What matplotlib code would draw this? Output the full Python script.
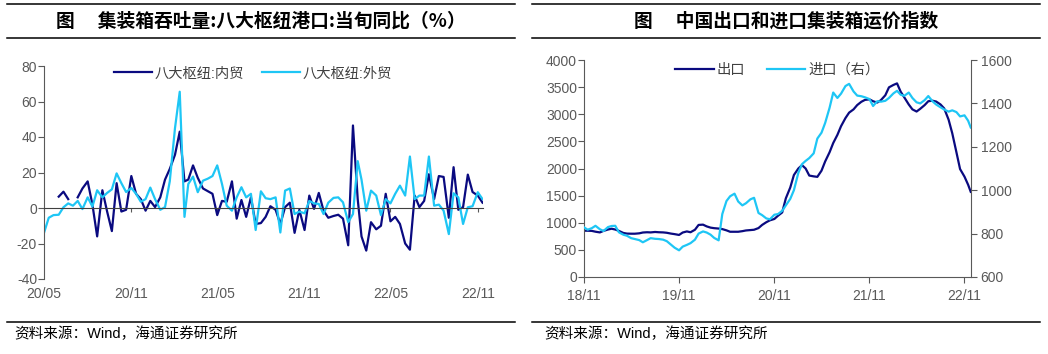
import matplotlib
matplotlib.use("Agg")
import matplotlib.pyplot as plt
import matplotlib.dates as mdates
from matplotlib.lines import Line2D
import numpy as np
import pandas as pd

plt.rcParams['font.family'] = ['Liberation Sans', 'Noto Sans CJK SC', 'DejaVu Sans']
plt.rcParams['axes.unicode_minus'] = False

# ---- left chart: 八大枢纽港口 当旬同比 (%), one value per dekad from 2020-05 上旬
nan = np.nan
nei_mao = [nan, nan, nan, 6.4, 9.2, 5, nan, 6, 11, 15,
           2, -16, 10, -2, -13, 14, -2, -1, 18, 8,
           5, -1.5, 4, 0.5, 6, 16, 22, 30, 43, 15,
           16, 24, 17, 11, 9.5, 8, -4, 4, 3.5, 15,
           -6, 4.5, -5, 6, -9, -8.5, -5, 1, -1, -9,
           0.5, 3, -14, -1, -12.4, 7, -0.5, 8.5, -1.5, -5.5,
           -4.5, -3.8, -6, -21, 46.5, 5, -16, -24, -8, -12,
           -10, 8, -7.5, -5, -9, -20, -23.5, 7, 0.5, 4,
           19, 5, 18, 17.5, -5.5, 23, -1, 0.5, 18.8, 9,
           7, 3]
wai_mao = [-14, -5.5, -4, -3.8, 0.4, 2.6, 1.3, 4, -0.6, 6,
           0.8, 10, 6, 8.5, 10.5, 19.5, 14, 9, 11.3, 8,
           3.5, 5, 11.5, 5, -1, 0.5, 15, 45, 65.5, -5,
           13.5, 17.7, 8.9, 15.4, 16.5, 18, 24, 13.6, 1.3, -1.5,
           6, 11.7, 6, 8, -12.4, 9.4, 5.5, 5, 6, -13.8,
           9.8, 11, -3.4, -2, -3, 4, 2.6, 2.3, -3.4, 3,
           5.7, 6, 3.2, -8, -3.4, 26.4, 16, -1.5, 9.8, 7,
           -4, 5, 2.6, 8, 12.6, 7, 29, 5, 7, 7,
           29, 1.3, 1.9, -1.5, -14.7, 8.3, 6, -9, 0.4, 1,
           8.9, 5]
dekads = [pd.Timestamp(2020, 5, 1) + pd.DateOffset(months=k // 3) + pd.Timedelta(days=10 * (k % 3))
          for k in range(len(nei_mao))]

# ---- right chart: 出口 (CCFI, left axis) / 进口 (right axis), semi-monthly
export_idx = [853, 853, 850, 835, 822, 850, 875, 890, 875, 850,
              812, 800, 798, 798, 805, 820, 825, 822, 830, 825,
              822, 815, 800, 790, 775, 820, 840, 825, 871, 960,
              965, 933, 910, 900, 893, 883, 860, 834, 834, 834,
              845, 858, 865, 871, 902, 960, 1010, 1045, 1070, 1130,
              1190, 1450, 1650, 1880, 2000, 2062, 2000, 1870, 1855, 1846,
              1960, 2130, 2300, 2470, 2620, 2780, 2930, 3030, 3090, 3169,
              3230, 3265, 3274, 3240, 3215, 3260, 3350, 3496, 3540, 3569,
              3415, 3310, 3180, 3090, 3050, 3100, 3169, 3240, 3250, 3235,
              3180, 3108, 2900, 2650, 2300, 1990, 1850, 1700, 1570]
import_idx = [829, 818, 825, 836, 820, 812, 830, 835, 836, 806,
              795, 790, 779, 775, 770, 760, 770, 779, 776, 775,
              772, 765, 749, 735, 723, 740, 748, 756, 772, 800,
              810, 805, 795, 780, 769, 890, 950, 972, 984, 948,
              930, 940, 958, 965, 895, 885, 870, 866, 887, 890,
              905, 930, 960, 1000, 1080, 1120, 1135, 1148, 1170, 1238,
              1265, 1310, 1380, 1450, 1425, 1445, 1480, 1490, 1455, 1436,
              1433, 1428, 1420, 1388, 1410, 1408, 1412, 1425, 1446, 1458,
              1440, 1435, 1450, 1425, 1405, 1400, 1415, 1434, 1410, 1395,
              1382, 1372, 1362, 1368, 1360, 1340, 1345, 1320, 1289]
weeks = list(pd.date_range('2018-11-01', '2022-11-15', freq='SMS')) + [pd.Timestamp('2022-11-25')]

NAVY = '#0A0A80'
CYAN = '#1EC6F5'
GRAY = '#595959'
W, H = 1048, 354

fig = plt.figure(figsize=(W / 100, H / 100), dpi=100)

# frame lines and titles
for x0, x1 in [(7, 515), (532, 1040)]:
    for y in (4, 38, 322):
        fig.add_artist(Line2D([x0 / W, x1 / W], [1 - y / H, 1 - y / H], color='black', lw=1.1))
fig.text(261 / W, 1 - 21 / H, '图\u3000 集装箱吞吐量:八大枢纽港口:当旬同比（%）', ha='center', va='center',
         fontsize=13.5, fontweight='bold', family=['Noto Sans CJK SC'])
fig.text(786 / W, 1 - 21 / H, '图\u3000 中国出口和进口集装箱运价指数', ha='center', va='center',
         fontsize=13.5, fontweight='bold', family=['Noto Sans CJK SC'])
fig.text(14 / W, 1 - 334 / H, '资料来源：Wind，海通证券研究所', ha='left', va='center', fontsize=10.5)
fig.text(544 / W, 1 - 334 / H, '资料来源：Wind，海通证券研究所', ha='left', va='center', fontsize=10.5)

# ---- left chart
ax1 = fig.add_axes([44 / W, 75 / H, 439 / W, 213 / H])
ax1.plot(dekads, nei_mao, color=NAVY, lw=1.6, label='八大枢纽:内贸')
ax1.plot(dekads, wai_mao, color=CYAN, lw=1.6, label='八大枢纽:外贸')
ax1.set_ylim(-40, 80)
ax1.set_yticks(range(-40, 81, 20))
ax1.set_xlim(pd.Timestamp('2020-05-01'), pd.Timestamp('2022-11-12'))
ax1.set_xticks(pd.date_range('2020-05-01', '2022-11-01', freq='6MS'))
ax1.xaxis.set_major_formatter(mdates.DateFormatter('%y/%m'))
ax1.spines['top'].set_visible(False)
ax1.spines['right'].set_visible(False)
ax1.spines['bottom'].set_position(('data', 0))
ax1.spines['bottom'].set_color('#404040')
ax1.spines['left'].set_color(GRAY)
ax1.tick_params(axis='x', direction='out', length=3, color=GRAY, pad=54, labelsize=10, labelcolor=GRAY)
ax1.tick_params(axis='y', direction='out', length=4, color=GRAY, pad=1, labelsize=10, labelcolor=GRAY)
ax1.legend(loc='center', bbox_to_anchor=(0.476, 0.965), ncol=2, frameon=False, handlelength=2.7,
           handletextpad=0.2, columnspacing=1.2, fontsize=10.3, labelcolor='#404040')

# ---- right chart
ax3 = fig.add_axes([584 / W, 77 / H, 387 / W, 217 / H])
l1, = ax3.plot(weeks, export_idx, color=NAVY, lw=1.6, label='出口')
ax4 = ax3.twinx()
l2, = ax4.plot(weeks, import_idx, color=CYAN, lw=1.6, label='进口（右）')
ax3.set_ylim(0, 4000)
ax3.set_yticks(range(0, 4001, 500))
ax4.set_ylim(600, 1600)
ax4.set_yticks(range(600, 1601, 200))
ax3.set_xlim(pd.Timestamp('2018-11-01'), pd.Timestamp('2022-11-26'))
ax3.set_xticks(pd.date_range('2018-11-01', '2022-11-01', freq='12MS'))
ax3.xaxis.set_major_formatter(mdates.DateFormatter('%y/%m'))
for s in ['top', 'right']:
    ax3.spines[s].set_visible(False)
for s in ['top', 'left', 'bottom']:
    ax4.spines[s].set_visible(False)
ax3.spines['left'].set_color(GRAY)
ax3.spines['bottom'].set_color(GRAY)
ax4.spines['right'].set_color(GRAY)
ax3.tick_params(axis='x', direction='out', length=4, color=GRAY, pad=5, labelsize=10, labelcolor=GRAY)
ax3.tick_params(axis='y', direction='out', length=4, color=GRAY, pad=1, labelsize=10, labelcolor=GRAY)
ax4.tick_params(axis='y', direction='out', length=4, color=GRAY, pad=3, labelsize=10, labelcolor=GRAY)
ax4.legend([l1, l2], ['出口', '进口（右）'], loc='center', bbox_to_anchor=(0.50, 0.954), ncol=2,
           frameon=False, handlelength=2.7, handletextpad=0.2, columnspacing=1.5, fontsize=10.3,
           labelcolor='#404040')

fig.savefig('out.png', dpi=100)
